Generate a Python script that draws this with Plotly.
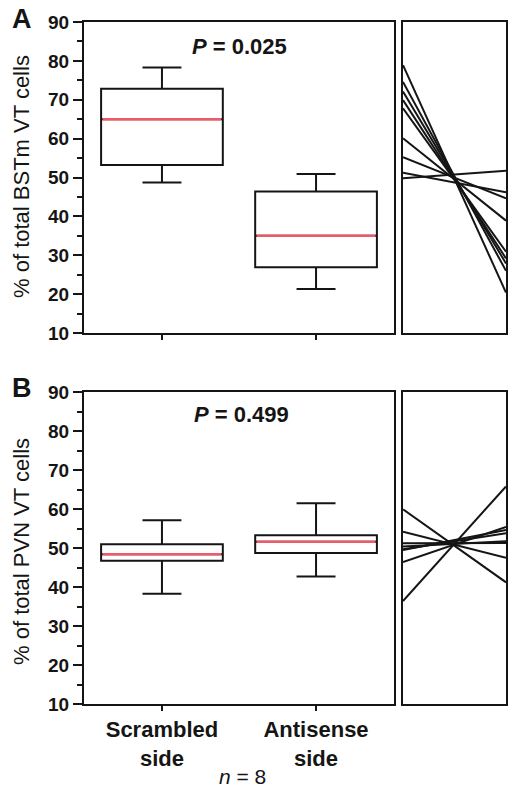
import plotly.graph_objects as go

# ---------------- data ----------------
categories = ["Scrambled<br>side", "Antisense<br>side"]
positions = [0, 1]

# Panel A: % of total BSTm VT cells (box statistics)
a_lower = [48.7, 21.3]
a_q1 = [53.2, 26.9]
a_median = [65.0, 35.0]
a_q3 = [72.8, 46.4]
a_upper = [78.3, 50.9]

# Panel B: % of total PVN VT cells (box statistics)
b_lower = [38.3, 42.7]
b_q1 = [46.7, 48.7]
b_median = [48.4, 51.6]
b_q3 = [50.95, 53.25]
b_upper = [57.1, 61.5]

# Individual paired values (scrambled side -> antisense side)
a_left = [78.9, 74.6, 72.1, 69.9, 67.8, 60.1, 55.2, 51.2, 49.8]
a_right = [20.4, 26.0, 27.9, 29.2, 30.9, 38.9, 44.65, 46.2, 51.75]
b_left = [59.9, 54.2, 51.2, 50.4, 49.7, 49.5, 46.4, 36.4]
b_right = [41.2, 47.5, 51.3, 51.7, 53.8, 54.6, 55.4, 65.8]

y_ticks = [10, 20, 30, 40, 50, 60, 70, 80, 90]

# ---------------- style ----------------
W, H = 521, 791
FONT = "Liberation Sans, Arial, Helvetica, sans-serif"
INK = "#151515"
MED = "#ee5a68"
BOXW = 0.79


def px(x):
    return x / W


def py(y):
    return 1 - y / H


fig = go.Figure()


def add_panel(xa, ya, lower, q1, med, q3, upper):
    fig.add_trace(go.Box(
        x=positions, q1=q1, median=med, q3=q3, lowerfence=lower, upperfence=upper,
        width=BOXW, whiskerwidth=0.32, fillcolor="white",
        line=dict(color=INK, width=2), boxpoints=False, hoverinfo="skip",
        showlegend=False, xaxis=xa, yaxis=ya))
    for p, m in zip(positions, med):
        fig.add_trace(go.Scatter(
            x=[p - BOXW / 2 + 0.01, p + BOXW / 2 - 0.01], y=[m, m], mode="lines",
            line=dict(color=MED, width=2.5), hoverinfo="skip", showlegend=False,
            xaxis=xa, yaxis=ya))


def add_lines(xa, ya, left, right):
    for l, r in zip(left, right):
        fig.add_trace(go.Scatter(
            x=[0, 1], y=[l, r], mode="lines", line=dict(color=INK, width=2),
            hoverinfo="skip", showlegend=False, xaxis=xa, yaxis=ya))


add_panel("x", "y", a_lower, a_q1, a_median, a_q3, a_upper)
add_lines("x2", "y2", a_left, a_right)
add_panel("x3", "y3", b_lower, b_q1, b_median, b_q3, b_upper)
add_lines("x4", "y4", b_left, b_right)

main_dom = [px(84), px(394)]
line_dom = [px(403), px(506)]
a_dom = [py(333), py(22)]
b_dom = [py(704), py(392)]

frame = dict(showline=True, linewidth=2, linecolor=INK, mirror=True,
             showgrid=False, zeroline=False, automargin=False)

main_y = dict(range=[10, 90], tickvals=y_ticks, ticks="outside", ticklen=9,
              tickwidth=2, tickcolor=INK,
              minor=dict(dtick=5, ticks="outside", ticklen=5, tickwidth=2, tickcolor=INK),
              tickfont=dict(family=FONT, size=19, color=INK, weight="bold"), **frame)
main_x = dict(range=[-0.506, 1.506], tickvals=positions, ticktext=categories,
              ticks="outside", ticklen=5, tickwidth=2, tickcolor=INK,
              tickfont=dict(family=FONT, size=22, color=INK, weight="bold"), **frame)
line_x = dict(range=[0, 1], showticklabels=False, ticks="", **frame)
line_y = dict(range=[10, 90], showticklabels=False, ticks="", **frame)

fig.update_layout(
    width=W, height=H, margin=dict(l=0, r=0, t=0, b=0, autoexpand=False),
    paper_bgcolor="white", plot_bgcolor="white", showlegend=False,
    xaxis=dict(domain=main_dom, anchor="y", **{**main_x, "showticklabels": False}),
    yaxis=dict(domain=a_dom, anchor="x", **main_y),
    xaxis2=dict(domain=line_dom, anchor="y2", **line_x),
    yaxis2=dict(domain=a_dom, anchor="x2", **line_y),
    xaxis3=dict(domain=main_dom, anchor="y3", **main_x),
    yaxis3=dict(domain=b_dom, anchor="x3", **main_y),
    xaxis4=dict(domain=line_dom, anchor="y4", **line_x),
    yaxis4=dict(domain=b_dom, anchor="x4", **line_y),
)

ann = []


def txt(text, x, y, size, bold=False, angle=0):
    ann.append(dict(text=text, x=px(x), y=py(y), xref="paper", yref="paper",
                    showarrow=False, textangle=angle, xanchor="center", yanchor="middle",
                    font=dict(family=FONT, size=size, color=INK,
                              weight="bold" if bold else "normal")))


txt("A", 22, 19, 27, bold=True)
txt("B", 22, 388, 27, bold=True)
txt("<i>P</i> = 0.025", 239, 46, 22, bold=True)
txt("<i>P</i> = 0.499", 241, 414, 22, bold=True)
txt("% of total BSTm VT cells", 21, 177, 22, angle=-90)
txt("% of total PVN VT cells", 21, 552, 22, angle=-90)
txt("<i>n</i> = 8", 242, 776, 21)
fig.update_layout(annotations=ann)

# remove the default 8 px page margin so the 521x791 figure fills the window exactly
fig.write_html(
    "out.html",
    config={"displayModeBar": False, "staticPlot": True},
    post_script="document.body.style.margin='0px';document.body.style.overflow='hidden';",
)
